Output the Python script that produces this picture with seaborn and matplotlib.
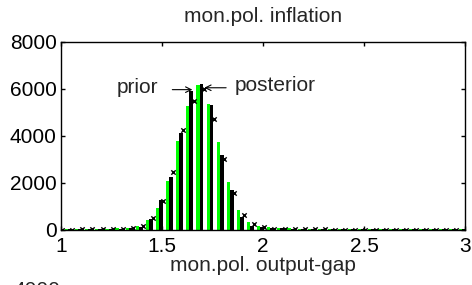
import numpy as np
import pandas as pd
import seaborn as sns
import matplotlib
matplotlib.use("Agg")
import matplotlib.pyplot as plt

sns.set_style("ticks")
plt.rcParams['font.family'] = ['Liberation Sans', 'DejaVu Sans']

# bin centres of the histogram (step 0.05)
centers = [1.00, 1.05, 1.10, 1.15, 1.20, 1.25, 1.30, 1.35, 1.40, 1.45,
           1.50, 1.55, 1.60, 1.65, 1.70, 1.75, 1.80, 1.85, 1.90, 1.95,
           2.00, 2.05, 2.10, 2.15, 2.20, 2.25, 2.30, 2.35, 2.40, 2.45,
           2.50, 2.55, 2.60, 2.65, 2.70, 2.75, 2.80, 2.85, 2.90, 2.95, 3.00]
# green bars
green = [30, 35, 40, 35, 45, 50, 70, 80, 150, 430,
         940, 2090, 3780, 5250, 6140, 5360, 3740, 2040, 840, 320,
         180, 130, 90, 70, 50, 45, 40, 40, 40, 35,
         35, 35, 30, 30, 30, 30, 30, 30, 30, 30, 30]
# black bars
black = [25, 30, 30, 35, 40, 40, 55, 75, 130, 460,
         1270, 2230, 4130, 5920, 6220, 5290, 3190, 1690, 570, 190,
         140, 100, 70, 55, 45, 40, 35, 35, 35, 30,
         30, 30, 30, 30, 25, 25, 25, 25, 25, 25, 25]
# 'x' markers
marks = [20, 20, 25, 25, 30, 30, 45, 80, 150, 500,
         1250, 2470, 4230, 5460, 5990, 4710, 3020, 1590, 640, 240,
         110, 60, 40, 30, 25, 25, 25, 20, 20, 20,
         20, 20, 20, 20, 20, 20, 20, 20, 20, 20, 20]

df = pd.DataFrame({"c": centers, "green": green, "black": black, "marks": marks})

fig = plt.figure(figsize=(4.72, 2.85), dpi=100)
ax = fig.add_axes([0.129, 0.193, 0.857, 0.661])

sns.barplot(x=df["c"] - 0.022, y=df["green"], native_scale=True, width=0.32,
            color="#00ff00", saturation=1, linewidth=0, errorbar=None, ax=ax)
sns.barplot(x=df["c"] - 0.005, y=df["black"], native_scale=True, width=0.38,
            color="black", saturation=1, linewidth=0, errorbar=None, ax=ax)
sns.scatterplot(x=df["c"] + 0.006, y=df["marks"], marker="x", color="black",
                s=10, linewidth=1, ax=ax, zorder=5)

ax.set_xlim(1, 3)
ax.set_ylim(0, 8000)
ax.set_xticks([1, 1.5, 2, 2.5, 3])
ax.set_xticklabels(["1", "1.5", "2", "2.5", "3"])
ax.set_yticks([0, 2000, 4000, 6000, 8000])
ax.tick_params(direction="in", length=3, width=1, top=True, right=True,
               labelsize=15, pad=3, colors="black")
ax.tick_params(axis="x", pad=5)
for s in ax.spines.values():
    s.set_visible(True)
    s.set_linewidth(1)
    s.set_color("black")

ax.set_title("mon.pol. inflation", fontsize=15, pad=14)
ax.set_xlabel("mon.pol. output-gap", fontsize=15, labelpad=0)
ax.set_ylabel("")

# arrows and their labels
ax.annotate("", xy=(1.65, 5960), xytext=(1.551, 5960),
            arrowprops=dict(arrowstyle="->", color="black", lw=0.8,
                            shrinkA=0, shrinkB=0))
ax.text(1.482, 6040, "prior", fontsize=15, ha="right", va="center")
ax.annotate("", xy=(1.709, 6040), xytext=(1.817, 6040),
            arrowprops=dict(arrowstyle="->", color="black", lw=0.8,
                            shrinkA=0, shrinkB=0))
ax.text(1.861, 6150, "posterior", fontsize=15, ha="left", va="center")

# tick label of the next panel, cut by the figure edge
fig.text(13 / 472, 1 - 281 / 285, "4000", fontsize=15, va="top", ha="left")

fig.savefig("out.png", dpi=100)
